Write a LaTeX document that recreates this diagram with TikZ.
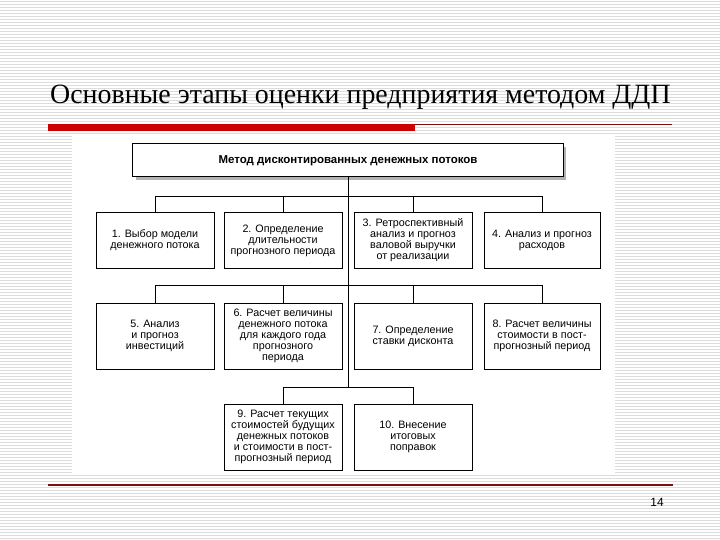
\documentclass[tikz,border=0pt]{standalone}
\usepackage{fontspec}
\setmainfont{Liberation Serif}
\newfontfamily\diagfont{Liberation Sans}
\usetikzlibrary{shadows}

\definecolor{barred}{HTML}{CC0000}
\definecolor{linered}{HTML}{7A1010}
\definecolor{stripegray}{HTML}{DCDCDC}

\begin{document}
\begin{tikzpicture}[
    x=1bp, y=-1bp,
    stage/.style = {draw, line width=1bp, minimum width=118bp, minimum height=55bp,
                    align=center, inner sep=1bp,
                    font=\diagfont\fontsize{10.8}{11}\selectfont},
    tall/.style = {stage, minimum height=66bp},
    head/.style = {draw, line width=1bp, fill=white, minimum width=430bp, minimum height=33bp,
                   font=\diagfont\bfseries\fontsize{11.5}{13}\selectfont,
                   drop shadow={shadow xshift=3bp, shadow yshift=-3bp, fill=gray!60, opacity=1}},
    link/.style = {draw, line width=0.9bp}
  ]
  % slide background: white with thin grey stripes
  \useasboundingbox (0,0) rectangle (720,540);
  \fill[white] (0,0) rectangle (720,540);
  \foreach \y in {1.5,4.5,...,540}
    \draw[stripegray, line width=1.1bp] (0,\y) -- (720,\y);

  % title and red rules
  \node[anchor=base west, inner sep=0pt, font=\fontsize{28}{30}\selectfont] (title) at (50,104)
    {Основные этапы оценки предприятия методом ДДП};
  \fill[barred] (48,124) rectangle (415,131);
  \draw[linered, line width=1.2bp] (415,124.5) -- (672,124.5);
  \draw[linered, line width=1.2bp] (48,485) -- (673,485);
  \node[font=\diagfont\fontsize{12}{14}\selectfont] (pageno) at (657,502) {14};

  % white field behind the chart
  \fill[white] (72,136) rectangle (615,473);

  % boxes at explicit coordinates (in px of the slide)
  \node[head] (top) at (348,160.5) {Метод дисконтированных денежных потоков};

  \node[stage] (b1) at (155,240.5) {1. Выбор модели\\денежного потока};
  \node[stage] (b2) at (283,240.5) {2. Определение\\длительности\\прогнозного периода};
  \node[stage] (b3) at (413,240.5) {3. Ретроспективный\\анализ и прогноз\\валовой выручки\\от реализации};
  \node[stage, minimum width=116bp] (b4) at (542,240.5) {4. Анализ и прогноз\\расходов};

  \node[tall] (b5) at (155,336) {5. Анализ\\и прогноз\\инвестиций};
  \node[tall] (b6) at (283,336) {6. Расчет величины\\денежного потока\\для каждого года\\прогнозного\\периода};
  \node[tall] (b7) at (413,336) {7. Определение\\ставки дисконта};
  \node[tall, minimum width=116bp] (b8) at (542,336) {8. Расчет величины\\стоимости в пост-\\прогнозный период};

  \node[tall] (b9)  at (283,437) {9. Расчет текущих\\стоимостей будущих\\денежных потоков\\и стоимости в пост-\\прогнозный период};
  \node[tall] (b10) at (413,437) {10. Внесение\\итоговых\\поправок};

  % junctions on the central trunk
  \coordinate (j1) at (348,196);
  \coordinate (j2) at (348,285);
  \coordinate (j3) at (348,387);

  \path[link] (top.south) -- (j3);
  \foreach \b in {b1,b2,b3,b4}
    \path[link] (j1) -| (\b.north);
  \foreach \b in {b5,b6,b7,b8}
    \path[link] (j2) -| (\b.north);
  \foreach \b in {b9,b10}
    \path[link] (j3) -| (\b.north);
\end{tikzpicture}
\end{document}
